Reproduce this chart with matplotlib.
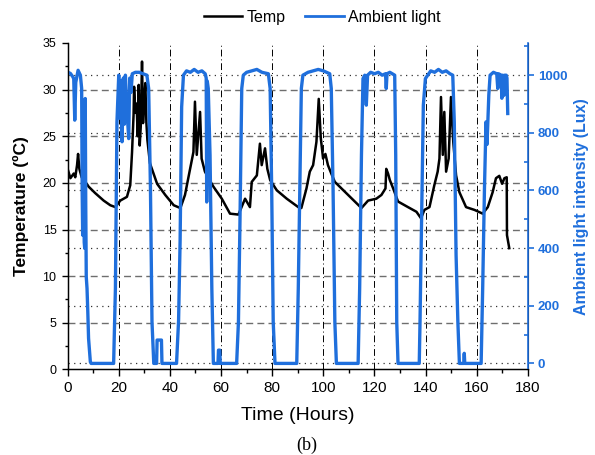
import matplotlib
matplotlib.use("Agg")
import matplotlib.pyplot as plt
from matplotlib.lines import Line2D
from matplotlib.ticker import MultipleLocator

plt.rcParams['font.family'] = ['Liberation Sans', 'DejaVu Sans']

BLUE = '#1f6fdc'

# ---------------- data ----------------
temp_time = [0, 1.1, 2.4, 3.0, 3.7, 4.1, 4.6, 5.5, 6.5, 7.5, 8.2, 10.8, 14.1, 16.7, 18.7,
             20.6, 23.2, 24.5, 25.2, 25.8, 26.0, 26.5, 27.0, 27.4, 27.8, 28.2, 28.6, 29.1,
             29.5, 30.0, 30.4, 30.8, 31.2, 32.2, 35.0, 38.2, 41.5, 44.1, 45.9, 47.9, 49.2,
             49.8, 50.5, 51.8, 52.4, 53.7, 57.0, 60.3, 63.5, 66.8, 69.4, 71.3, 72.0, 74.0,
             75.2, 75.9, 77.2, 78.1, 79.2, 81.8, 85.7, 90.2, 91.4, 93.4, 94.7, 96.0, 97.3,
             98.2, 99.0, 99.9, 100.8, 101.8, 103.1, 104.5, 109.7, 114.9, 117.5, 120.7, 122.7,
             124.3, 124.6, 125.3, 126.0, 127.3, 129.2, 133.1, 136.4, 138.2, 139.5, 141.5,
             143.4, 144.7, 145.4, 146.0, 146.7, 147.3, 148.0, 149.0, 149.9, 150.8, 151.9,
             153.2, 155.8, 159.1, 162.3, 164.3, 166.2, 167.5, 168.8, 169.9, 170.8, 171.7,
             171.8, 172.7]
temp_vals = [21.5, 20.5, 21.0, 20.6, 21.9, 23.1, 21.5, 20.6, 20.2, 19.9, 19.6, 18.9, 18.1, 17.6, 17.4,
             18.1, 18.5, 19.75, 23.3, 27.3, 30.3, 27.5, 28.5, 25.0, 30.5, 24.0, 26.0, 33.0,
             26.4, 29.0, 30.7, 26.5, 24.6, 22.1, 19.9, 18.7, 17.6, 17.3, 18.7, 21.5, 23.3,
             28.7, 23.0, 27.6, 22.6, 21.2, 19.6, 18.3, 16.7, 16.6, 18.3, 17.4, 20.1, 20.8,
             24.2, 21.9, 23.7, 21.5, 20.3, 19.2, 18.3, 17.4, 17.3, 19.4, 21.2, 21.9, 24.4,
             29.0, 24.8, 22.6, 23.1, 21.9, 21.0, 20.1, 18.7, 17.3, 18.1, 18.3, 18.7,
             19.4, 21.5, 21.0, 20.3, 19.4, 18.0, 17.4, 16.9, 16.2, 17.1, 17.4,
             19.75, 21.2, 22.6, 29.2, 23.0, 27.6, 21.2, 22.6, 29.2, 24.4, 20.8,
             19.0, 17.4, 17.1, 16.7, 17.4, 19.0, 20.5, 20.75, 19.9, 20.5, 20.6,
             14.4, 13.0]

light_time = [0, 1.1, 2.0, 2.4, 2.8, 3.2, 4.1, 5.0, 5.5, 5.7, 5.9, 6.1, 6.2, 6.5, 6.7, 6.9,
              7.1, 7.3, 7.6, 7.9, 8.2, 8.9, 9.2, 18.0, 18.7, 19.3, 20.0, 20.5, 21.0, 21.3,
              21.8, 22.2, 22.6, 23.2, 23.9, 24.3, 24.8, 25.3, 26.5, 28.0, 29.5, 31.0, 31.7,
              32.4, 33.0, 33.7, 34.8, 35.0, 36.7, 36.9, 42.6, 43.4, 44.0, 44.6, 45.3, 46.5,
              48.0, 49.5, 51.0, 52.5, 53.8, 54.2, 54.4, 54.6, 55.0, 55.7, 56.4, 57.0, 58.8,
              59.0, 59.5, 59.7, 66.1, 66.8, 67.4, 68.1, 68.7, 70.0, 72.0, 74.0, 76.0, 78.5,
              79.2, 79.8, 80.4, 81.1, 89.6, 90.2, 90.8, 91.4, 92.0, 94.0, 96.0, 98.0, 100.0,
              102.5, 103.1, 103.8, 104.5, 105.1, 113.6, 114.2, 114.9, 115.5, 116.2, 116.8,
              117.3, 118.5, 120.0, 121.5, 123.0, 124.3, 124.6, 124.9, 126.0, 127.9, 128.3,
              128.7, 129.2, 137.5, 137.8, 138.6, 139.1, 139.9, 140.8, 142.0, 143.5, 145.0,
              146.5, 148.0, 149.5, 150.6, 151.2, 151.9, 152.6, 153.2, 154.9, 155.1, 155.3,
              161.7, 162.3, 163.0, 163.6, 164.0, 164.7, 165.2, 166.5, 167.8, 168.2, 168.5,
              169.5, 169.8, 170.1, 170.6, 170.9, 171.5, 171.8, 172.1]
light_vals = [1011, 1006, 995, 988, 844, 975, 1017, 1000, 954, 600, 445, 850, 722, 420, 399, 919,
              550, 300, 260, 180, 87, 5, 0, 0, 260, 838, 1000, 850, 980, 769,
              990, 830, 1000, 880, 780, 990, 940, 1005, 1010, 1010, 1005, 1000, 954,
              607, 144, 0, 0, 81, 81, 0, 0, 150, 428, 890, 1000, 1015,
              1010, 1020, 1010, 1015, 1005, 990, 560, 980, 954, 722, 260, 0, 0,
              46, 46, 0, 0, 144, 491, 954, 1000, 1010, 1015, 1020, 1010, 1005,
              954, 607, 144, 0, 0, 260, 607, 954, 1000, 1010, 1015, 1020, 1015,
              1005, 954, 607, 144, 0, 0, 260, 722, 988, 1000, 896,
              1000, 1010, 1005, 1010, 1000, 1005, 954, 1005, 1010, 1000, 722,
              144, 0, 0, 144, 607, 896, 988, 1000, 1015, 1010, 1020,
              1010, 1015, 1005, 1000, 838, 376, 144, 0, 0, 35, 0,
              0, 260, 607, 838, 760, 931, 1000, 1010, 1005, 954, 1005,
              1000, 920, 1000, 930, 1000, 1000, 990, 867]

x_ticks = [0, 20, 40, 60, 80, 100, 120, 140, 160, 180]
temp_ticks = [0, 5, 10, 15, 20, 25, 30, 35]
light_ticks = [0, 200, 400, 600, 800, 1000]

# ---------------- figure ----------------
fig = plt.figure(figsize=(5.95, 4.55), dpi=100)
ax1 = fig.add_axes([0.1136, 0.188, 0.7737, 0.7177])
ax2 = ax1.twinx()

ax1.set_xlim(0, 180)
ax1.set_ylim(0, 35)
ax2.set_ylim(-21, 1112)

# grid lines
for xv in x_ticks[1:-1]:
    ax1.axvline(xv, color='black', lw=0.7, ls=(0, (7, 3, 1, 3)), zorder=0.5)
for yv in temp_ticks[1:-1]:
    ax1.axhline(yv, color='#6e6e6e', lw=1.0, ls=(0, (5, 3)), zorder=0.5)
for lv in light_ticks:
    ax2.axhline(lv, color='black', lw=0.9, ls=(0, (1, 3.5)), zorder=0.5, alpha=0.8)

ax1.plot(temp_time, temp_vals, color='black', lw=1.8, zorder=2)
ax2.plot(light_time, light_vals, color=BLUE, lw=2.4, zorder=2)

# spines
ax1.spines['top'].set_visible(False)
ax2.spines['top'].set_visible(False)
ax2.spines['right'].set_color(BLUE)
ax2.spines['right'].set_linewidth(1.2)
ax1.spines['left'].set_linewidth(1.0)
ax1.spines['bottom'].set_linewidth(1.0)

# ticks
ax1.set_xticks(x_ticks)
ax1.set_yticks(temp_ticks)
ax1.xaxis.set_minor_locator(MultipleLocator(10))
ax1.yaxis.set_minor_locator(MultipleLocator(2.5))
ax1.tick_params(axis='x', which='major', direction='out', length=5, width=1, labelsize=11, pad=3)
ax1.tick_params(axis='x', which='minor', direction='out', length=3, width=1)
ax1.tick_params(axis='y', which='major', direction='out', length=4, width=1, labelsize=9, pad=4)
ax1.tick_params(axis='y', which='minor', direction='out', length=2.5, width=1)

ax2.set_yticks(light_ticks)
ax2.yaxis.set_minor_locator(MultipleLocator(100))
ax2.tick_params(axis='y', which='major', direction='out', length=4, width=1.2,
                colors=BLUE, labelsize=9.5, pad=3)
ax2.tick_params(axis='y', which='minor', direction='in', length=3, width=1.2, colors=BLUE)
for lab in ax2.get_yticklabels():
    lab.set_fontweight('bold')

ax1.set_xlabel('Time (Hours)', fontsize=14, labelpad=9)
ax1.set_ylabel('Temperature (ºC)', fontsize=12.5, fontweight='bold', labelpad=10)
ax2.set_ylabel('Ambient light intensity (Lux)', fontsize=11.5, fontweight='bold',
               color=BLUE, labelpad=5)

handles = [Line2D([], [], color='black', lw=1.8), Line2D([], [], color=BLUE, lw=2.0)]
fig.legend(handles, ['Temp', 'Ambient light'], loc='center', bbox_to_anchor=(0.542, 0.962),
           ncol=2, frameon=False, fontsize=11.5, handlelength=2.4, handletextpad=0.3,
           columnspacing=1.2)

fig.text(0.515, 0.022, '(b)', ha='center', va='center', fontsize=13,
         family=['Liberation Serif', 'DejaVu Serif'])

fig.savefig('out.png', dpi=100)
